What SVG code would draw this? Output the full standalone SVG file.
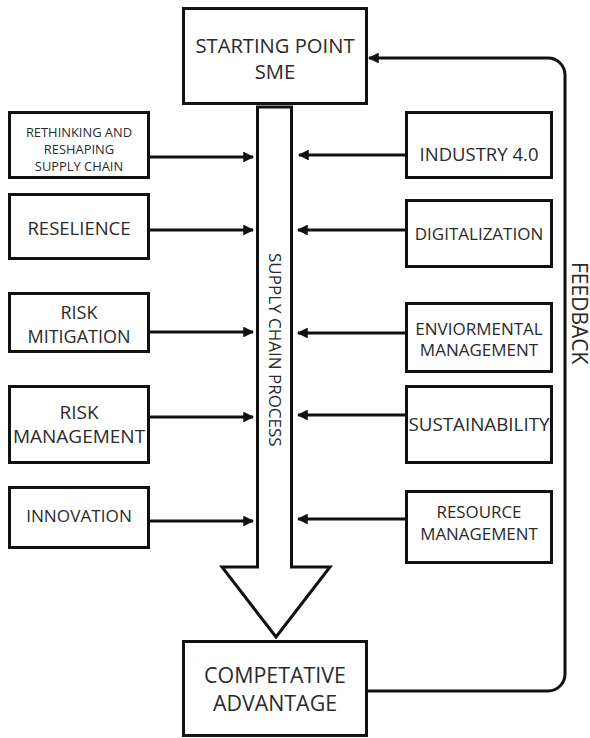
<svg xmlns="http://www.w3.org/2000/svg" width="590" height="738" viewBox="0 0 590 738">
  <style>
    .box { fill: #fff; stroke: #111; stroke-width: 3; }
    .lbl { font-family: "Open Sans", "Liberation Sans", sans-serif; fill: #2a2a2a; text-anchor: middle; }
    .edge { fill: none; stroke: #111; stroke-width: 3; }
  </style>
  <defs>
    <marker id="head" viewBox="0 0 10 10" refX="9" refY="5" markerWidth="3.6" markerHeight="3.6" orient="auto" markerUnits="strokeWidth">
      <path d="M0,0 L10,5 L0,10 Z" fill="#111"/>
    </marker>
  </defs>
  <rect width="590" height="738" fill="#fff"/>

  <!-- main process arrow -->
  <g id="supply-chain-process">
    <polygon class="box" points="257.5,107 291.5,107 291.5,567 330,567 276,637 222,567 257.5,567"/>
    <text class="lbl" font-size="17" transform="translate(269,253) rotate(90)" style="text-anchor:start">SUPPLY CHAIN PROCESS</text>
  </g>

  <g id="start">
    <rect class="box" x="183.5" y="8.5" width="183" height="95"/>
    <text class="lbl" font-size="20.2" x="275" y="53">STARTING POINT</text>
    <text class="lbl" font-size="20.2" x="275" y="79">SME</text>
  </g>

  <g id="advantage">
    <rect class="box" x="183.5" y="641.5" width="183" height="94"/>
    <text class="lbl" font-size="21.4" x="275" y="683">COMPETATIVE</text>
    <text class="lbl" font-size="21.4" x="275" y="711">ADVANTAGE</text>
  </g>

  <!-- left-hand factors -->
  <g id="rethinking">
    <rect class="box" x="9.5" y="112.5" width="139" height="65"/>
    <text class="lbl" font-size="12.9" x="79" y="137">RETHINKING AND</text>
    <text class="lbl" font-size="12.9" x="79" y="154">RESHAPING</text>
    <text class="lbl" font-size="12.9" x="79" y="171">SUPPLY CHAIN</text>
  </g>
  <g id="resilience">
    <rect class="box" x="9.5" y="194.5" width="139" height="64"/>
    <text class="lbl" font-size="18.5" x="79" y="235">RESELIENCE</text>
  </g>
  <g id="risk-mitigation">
    <rect class="box" x="9.5" y="293.5" width="139" height="58"/>
    <text class="lbl" font-size="18" x="79" y="319">RISK</text>
    <text class="lbl" font-size="18" x="79" y="343">MITIGATION</text>
  </g>
  <g id="risk-management">
    <rect class="box" x="9.5" y="386.5" width="139" height="76"/>
    <text class="lbl" font-size="19" x="79" y="419">RISK</text>
    <text class="lbl" font-size="19" x="79" y="443">MANAGEMENT</text>
  </g>
  <g id="innovation">
    <rect class="box" x="9.5" y="487.5" width="139" height="60"/>
    <text class="lbl" font-size="17.2" x="79" y="522">INNOVATION</text>
  </g>

  <!-- right-hand factors -->
  <g id="industry">
    <rect class="box" x="406.5" y="112.5" width="145" height="65"/>
    <text class="lbl" font-size="18.5" x="479" y="161">INDUSTRY 4.0</text>
  </g>
  <g id="digitalization">
    <rect class="box" x="406.5" y="200.5" width="145" height="66"/>
    <text class="lbl" font-size="17" x="479" y="240">DIGITALIZATION</text>
  </g>
  <g id="environmental">
    <rect class="box" x="406.5" y="303.5" width="145" height="68"/>
    <text class="lbl" font-size="17" x="479" y="335">ENVIORMENTAL</text>
    <text class="lbl" font-size="17" x="479" y="356">MANAGEMENT</text>
  </g>
  <g id="sustainability">
    <rect class="box" x="406.5" y="386.5" width="145" height="76"/>
    <text class="lbl" font-size="18.8" x="479" y="431">SUSTAINABILITY</text>
  </g>
  <g id="resource">
    <rect class="box" x="406.5" y="491.5" width="145" height="71"/>
    <text class="lbl" font-size="16.9" x="479" y="518">RESOURCE</text>
    <text class="lbl" font-size="16.9" x="479" y="540">MANAGEMENT</text>
  </g>

  <g id="connectors">
    <line class="edge" x1="149" y1="157" x2="253" y2="157" marker-end="url(#head)"/>
    <line class="edge" x1="149" y1="230" x2="253" y2="230" marker-end="url(#head)"/>
    <line class="edge" x1="149" y1="332" x2="253" y2="332" marker-end="url(#head)"/>
    <line class="edge" x1="149" y1="417" x2="253" y2="417" marker-end="url(#head)"/>
    <line class="edge" x1="149" y1="521" x2="253" y2="521" marker-end="url(#head)"/>
    <line class="edge" x1="406" y1="155" x2="299" y2="155" marker-end="url(#head)"/>
    <line class="edge" x1="406" y1="230" x2="298" y2="230" marker-end="url(#head)"/>
    <line class="edge" x1="406" y1="333" x2="298" y2="333" marker-end="url(#head)"/>
    <line class="edge" x1="406" y1="415" x2="298" y2="415" marker-end="url(#head)"/>
    <line class="edge" x1="406" y1="519" x2="298" y2="519" marker-end="url(#head)"/>
    <path class="edge" d="M367,691 H548 A17,17 0 0 0 565,674 V75 A17,17 0 0 0 548,58 H369" marker-end="url(#head)"/>
  </g>

  <g id="feedback-label">
    <text class="lbl" font-size="21" transform="translate(571.5,262) rotate(90)" style="text-anchor:start">FEEDBACK</text>
  </g>
</svg>
